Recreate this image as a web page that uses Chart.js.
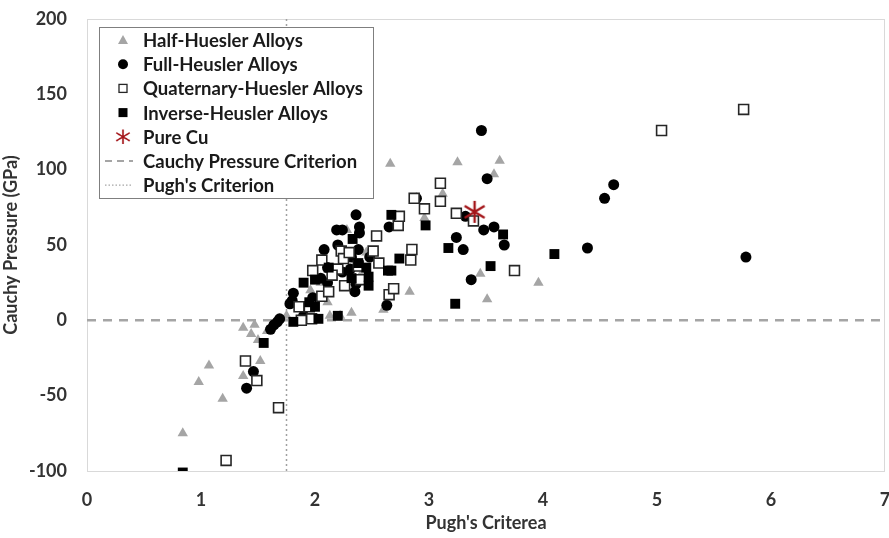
<!DOCTYPE html>
<html><head><meta charset="utf-8">
<script src="https://cdn.jsdelivr.net/npm/chart.js@4/dist/chart.umd.min.js"></script>
<style>html,body{margin:0;padding:0;background:#fff}#wrap{width:889px;height:538px}</style>
</head><body><div id="wrap"><canvas id="c" width="889" height="538"></canvas></div>
<script>
// ---- data (Pugh's ratio, Cauchy pressure GPa) ----
const halfHeusler = [[0.84,-75],[0.98,-41],[1.07,-30],[1.19,-52],[1.37,-37],[1.52,-27],[1.37,-5],[1.47,-3],[1.44,-9],[1.50,-13],[1.58,-7],[1.87,1],[1.96,20],[2.11,12],[2.13,3],[2.22,3],[2.32,5],[2.60,7],[2.83,19],[2.28,60],[2.45,45],[2.66,104],[2.96,68],[3.12,84],[3.25,105],[3.62,106],[3.57,97],[3.45,31],[3.51,14],[3.96,25],[1.75,3],[2.05,25],[2.40,30]];
const fullHeusler = [[1.40,-45],[1.46,-34],[1.61,-6],[1.64,-3],[1.67,-1],[1.69,1],[1.78,11],[1.81,18],[1.80,13],[1.90,3],[1.89,9],[1.98,15],[2.11,25],[2.11,35],[2.08,47],[2.20,50],[2.19,60],[2.24,60],[2.36,70],[2.39,62],[2.39,58],[2.38,47],[2.32,42],[2.31,34],[2.24,32],[2.36,24],[2.35,19],[2.48,42],[2.63,10],[2.65,62],[2.89,81],[3.24,55],[3.30,47],[3.32,69],[3.37,27],[3.46,126],[3.51,94],[3.48,60],[3.57,62],[3.66,50],[4.39,48],[4.54,81],[4.62,90],[5.78,42],[2.05,28]];
const quaternaryHeusler = [[1.22,-93],[1.39,-27],[1.49,-40],[1.68,-58],[1.86,9],[1.95,9],[1.97,1],[1.88,0],[2.06,16],[2.12,19],[2.26,23],[1.98,33],[2.06,40],[2.20,34],[2.23,46],[2.25,41],[2.38,36],[2.51,46],[2.54,56],[2.56,38],[2.73,63],[2.74,69],[2.65,17],[2.69,21],[2.84,40],[2.85,47],[2.87,81],[2.96,74],[3.10,91],[3.10,79],[3.24,71],[3.39,66],[3.75,33],[5.04,126],[5.76,140],[2.15,30],[2.30,45],[2.40,27]];
const inverseHeusler = [[0.84,-101],[1.55,-15],[1.81,-1],[2.00,9],[2.03,1],[2.20,3],[1.90,25],[2.00,27],[2.33,54],[2.47,29],[2.47,23],[2.32,28],[2.64,33],[2.67,33],[2.74,41],[2.67,70],[2.97,63],[3.17,48],[3.23,11],[3.54,36],[3.65,57],[4.10,44],[2.12,35],[2.38,38],[1.95,12],[2.45,35]];
const pureCu = [[3.40,72]];
const cauchyCriterion = [[0,0],[7,0]];
const pughCriterion = [[1.75,-100],[1.75,200]];
const xTicks = [0,1,2,3,4,5,6,7];
const yTicks = [-100,-50,0,50,100,150,200];
const legendLabels = ["Half-Huesler Alloys","Full-Heusler Alloys","Quaternary-Huesler Alloys","Inverse-Heusler Alloys","Pure Cu","Cauchy Pressure Criterion","Pugh's Criterion"];

const FONT = 'Lato, "Open Sans", sans-serif';
const TXT = '#333333';
const toPts = a => a.map(p => ({x:p[0], y:p[1]}));

// asterisk marker for pure Cu
function makeStar(){
  const c = document.createElement('canvas'); c.width = 24; c.height = 24;
  const g = c.getContext('2d'); g.strokeStyle = '#a4161a'; g.lineWidth = 2.4;
  g.beginPath();
  g.moveTo(12,1); g.lineTo(12,23);
  g.moveTo(2,6); g.lineTo(22,18);
  g.moveTo(22,6); g.lineTo(2,18);
  g.stroke();
  return c;
}
const starImg = makeStar();

const frame = {
  id:'frame',
  beforeDatasetsDraw(chart){
    const {ctx, chartArea:a} = chart;
    ctx.save(); ctx.strokeStyle = '#d9d9d9'; ctx.lineWidth = 1;
    ctx.strokeRect(a.left+0.5, a.top+0.5, a.right-a.left-1, a.bottom-a.top);
    ctx.restore();
  }
};

const legendBox = {
  id:'legendBox',
  afterDraw(chart){
    const ctx = chart.ctx;
    const L = 99, T = 27, W = 274, H = 171;
    ctx.save();
    ctx.fillStyle = '#fff'; ctx.fillRect(L, T, W, H);
    ctx.strokeStyle = '#7f7f7f'; ctx.lineWidth = 1;
    ctx.strokeRect(L+0.5, T+0.5, W, H);
    const sx = 123, tx = 143, y0 = 40, dy = 24.2;
    ctx.font = 'bold 18.5px ' + FONT; ctx.textBaseline = 'middle';
    legendLabels.forEach((t,i) => {
      const y = y0 + i*dy;
      ctx.fillStyle = '#1a1a1a';
      ctx.fillText(t, tx, y+1);
      ctx.beginPath();
      if (i === 0){ ctx.fillStyle = '#a5a5a5'; ctx.moveTo(sx, y-5); ctx.lineTo(sx+5, y+4); ctx.lineTo(sx-5, y+4); ctx.closePath(); ctx.fill(); }
      else if (i === 1){ ctx.fillStyle = '#000'; ctx.arc(sx, y, 5, 0, Math.PI*2); ctx.fill(); }
      else if (i === 2){ ctx.strokeStyle = '#262626'; ctx.lineWidth = 1.3; ctx.strokeRect(sx-4, y-4, 8, 8); }
      else if (i === 3){ ctx.fillStyle = '#000'; ctx.fillRect(sx-4.5, y-4.5, 9, 9); }
      else if (i === 4){ ctx.drawImage(starImg, sx-8, y-8, 16, 16); }
      else if (i === 5){ ctx.strokeStyle = '#a5a5a5'; ctx.lineWidth = 2; ctx.setLineDash([7,5]); ctx.moveTo(sx-18, y); ctx.lineTo(sx+10, y); ctx.stroke(); ctx.setLineDash([]); }
      else { ctx.strokeStyle = '#a5a5a5'; ctx.lineWidth = 1.2; ctx.setLineDash([1.5,2]); ctx.moveTo(sx-18, y); ctx.lineTo(sx+10, y); ctx.stroke(); ctx.setLineDash([]); }
    });
    ctx.restore();
  }
};

new Chart(document.getElementById('c'), {
  type:'scatter',
  data:{ datasets:[
    {label:legendLabels[0], data:toPts(halfHeusler), pointStyle:'triangle', radius:6, backgroundColor:'#a5a5a5', borderColor:'#a5a5a5', borderWidth:0, order:4},
    {label:legendLabels[1], data:toPts(fullHeusler), pointStyle:'circle', radius:5.5, backgroundColor:'#000', borderColor:'#000', borderWidth:0, order:3},
    {label:legendLabels[2], data:toPts(quaternaryHeusler), pointStyle:'rect', radius:7, backgroundColor:'#fff', borderColor:'#262626', borderWidth:1.6, order:2},
    {label:legendLabels[3], data:toPts(inverseHeusler), pointStyle:'rect', radius:7, backgroundColor:'#000', borderColor:'#000', borderWidth:0, order:1},
    {label:legendLabels[4], data:toPts(pureCu), pointStyle:starImg, order:0},
    {label:legendLabels[5], type:'line', data:toPts(cauchyCriterion), borderColor:'#a5a5a5', borderWidth:2.5, borderDash:[9,7], pointRadius:0, order:10},
    {label:legendLabels[6], type:'line', data:toPts(pughCriterion), borderColor:'#a0a0a0', borderWidth:1.5, borderDash:[2,3], pointRadius:0, order:10}
  ]},
  options:{
    responsive:false, animation:false, devicePixelRatio:1,
    layout:{autoPadding:false, padding:{top:19, right:4, left:0, bottom:0}},
    plugins:{legend:{display:false}, tooltip:{enabled:false}},
    scales:{
      x:{type:'linear', min:0, max:7,
        afterBuildTicks: s => { s.ticks = xTicks.map(v => ({value:v})); },
        afterFit: s => { s.height = 67; s.paddingLeft = 0; s.paddingRight = 0; },
        grid:{display:false, drawTicks:false}, border:{display:false},
        ticks:{padding:18, color:TXT, font:{family:FONT, size:18, weight:'bold'}},
        title:{display:true, text:"Pugh's Criterea", color:TXT, font:{family:FONT, size:18, weight:'bold'}, padding:{top:5}}},
      y:{type:'linear', min:-100, max:200,
        afterBuildTicks: s => { s.ticks = yTicks.map(v => ({value:v})); },
        afterFit: s => { s.width = 87; s.paddingTop = 0; s.paddingBottom = 0; },
        grid:{display:false, drawTicks:false}, border:{display:false},
        ticks:{padding:20, color:TXT, font:{family:FONT, size:18, weight:'bold'}},
        title:{display:true, text:'Cauchy Pressure (GPa)', color:TXT, font:{family:FONT, size:18, weight:'bold'}, padding:{top:0,bottom:0}}}
    }
  },
  plugins:[frame, legendBox]
});
</script></body></html>
